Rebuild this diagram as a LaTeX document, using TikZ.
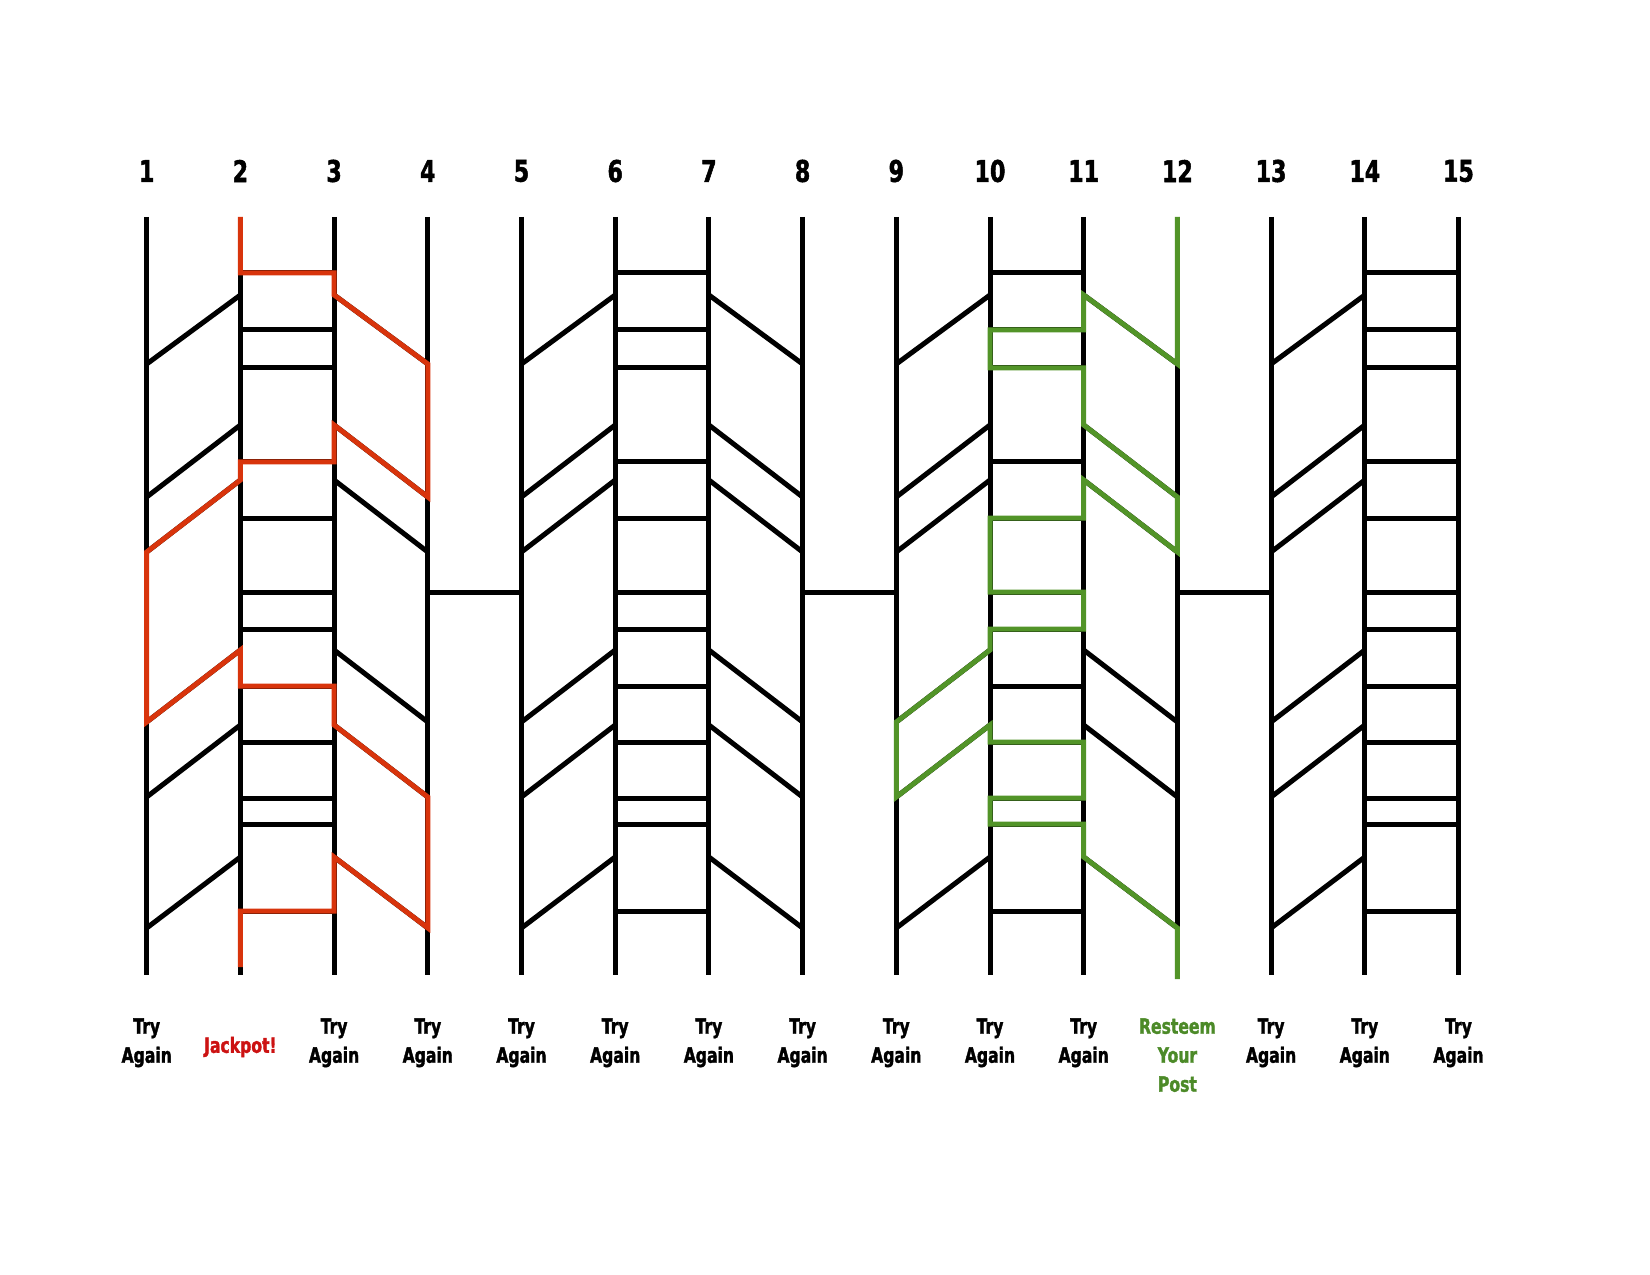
\documentclass[tikz,border=0pt]{standalone}
\usepackage{fontspec}
\setmainfont{DejaVu Sans}[FakeStretch=0.74, BoldFeatures={FakeBold=1.6}]
\usepackage{xcolor}
\usepackage{tikz}
\definecolor{pathred}{RGB}{216,52,12}
\definecolor{jackred}{RGB}{204,18,18}
\definecolor{pathgreen}{RGB}{82,148,40}
\definecolor{postgreen}{RGB}{76,138,40}

\begin{document}
\begin{tikzpicture}[x=0.2mm, y=-0.2mm,
  rail/.style={line width=1mm},
  rung/.style={line width=1mm},
  redpath/.style={draw=pathred, line width=1mm},
  greenpath/.style={draw=pathgreen, line width=1mm},
  num/.style={font=\fontsize{17}{20}\selectfont\bfseries},
  prize/.style={font=\fontsize{12}{16.5}\selectfont\bfseries, align=center, anchor=north, inner sep=0pt}]
\useasboundingbox (0,0) rectangle (1650,1275);

\foreach \i in {1,...,15} {
  \coordinate (t\i) at ({146.7+93.7*(\i-1)},217);
  \coordinate (b\i) at ({146.7+93.7*(\i-1)},975);
  \node[num] (n\i) at (t\i |- 0,171) {\i};
  \draw[rail] (t\i) -- (b\i);
}

\foreach \c in {1,5,9,13} {
  \pgfmathtruncatemacro{\d}{\c+1}
  \pgfmathtruncatemacro{\e}{\c+2}
  \pgfmathtruncatemacro{\f}{\c+3}
  \foreach \lo/\hi in {364/295,497/425,552/480,722/650,797/725,928/857}
    \draw[rung] (t\c |- 0,\lo) -- (t\d |- 0,\hi);
  \foreach \y in {273,330,368,462,518,592,629,686,742,798,824,911}
    \draw[rung] (t\d |- 0,\y) -- (t\e |- 0,\y);
  \ifnum\c<13
    \foreach \hi/\lo in {295/364,425/497,480/552,650/722,725/797,857/928}
      \draw[rung] (t\e |- 0,\hi) -- (t\f |- 0,\lo);
  \fi
}
\foreach \a/\b in {4/5,8/9,12/13}
  \draw[rung] (t\a |- 0,592) -- (t\b |- 0,592);

\draw[redpath] (t2) foreach \c/\y in {2/273,3/273,3/295,4/364,4/497,3/425,3/462,2/462,2/480,1/552,1/722,2/650,2/686,3/686,3/725,4/797,4/928,3/857,3/911,2/911,2/967} { -- (t\c |- 0,\y) };

\draw[greenpath] (t12) foreach \c/\y in {12/364,11/295,11/330,10/330,10/368,11/368,11/425,12/497,12/552,11/480,11/518,10/518,10/592,11/592,11/629,10/629,10/650,9/722,9/797,10/725,10/742,11/742,11/798,10/798,10/824,11/824,11/857,12/928,12/979} { -- (t\c |- 0,\y) };

\foreach \i in {1,3,4,5,6,7,8,9,10,11,13,14,15}
  \node[prize] (p\i) at (t\i |- 0,1018) {Try\\Again};
\node[prize, text=jackred, anchor=center] (p2) at (t2 |- 0,1047) {Jackpot!};
\node[prize, text=postgreen] (p12) at (t12 |- 0,1018) {Resteem\\Your\\Post};
\end{tikzpicture}
\end{document}
